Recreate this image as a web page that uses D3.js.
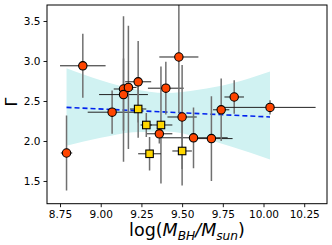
<!DOCTYPE html>
<html>
<head>
<meta charset="utf-8">
<script src="https://cdn.jsdelivr.net/npm/d3@7"></script>
<style>
  body { margin: 0; background: #fff; }
  svg { display: block; font-family: "DejaVu Sans", sans-serif; }
</style>
</head>
<body>
<div id="chart"></div>
<script>
// red circles
var circX    = [8.79, 8.89, 9.07, 9.14, 9.14, 9.17, 9.23, 9.40, 9.48, 9.50, 9.36, 9.57, 9.68, 9.74, 9.82, 10.04];
var circY    = [1.85, 2.94, 2.36, 2.65, 2.58, 2.67, 2.74, 2.66, 3.05, 2.30, 2.09, 2.04, 2.03, 2.39, 2.55, 2.42];
var circXerr = [0.035, 0.14, 0.15, 0.06, 0.15, 0.05, 0.08, 0.11, 0.12, 0.09, 0.08, 0.21, 0.13, 0.05, 0.06, 0.28];
var circYerr = [0.47, 0.40, 0.27, 0.91, 0.45, 0.77, 0.51, 0.33, 0.70, 0.65, 0.12, 0.38, 0.53, 0.39, 0.21, 0.09];

// yellow squares
var sqX    = [9.23, 9.28, 9.37, 9.30, 9.50];
var sqY    = [2.40, 2.20, 2.20, 1.84, 1.875];
var sqXerr = [0.05, 0.035, 0.07, 0.07, 0.06];
var sqYerr = [0.36, 0.15, 0.73, 0.21, 0.43];

// fit and confidence band
var fitX   = [8.79, 10.04];
var fitY   = [2.42, 2.30];
var bandX  = [8.79, 9.00, 9.20, 9.40, 9.60, 9.80, 10.04];
var bandHi = [2.91, 2.76, 2.65, 2.60, 2.64, 2.72, 2.87];
var bandLo = [1.94, 2.04, 2.11, 2.12, 2.05, 1.93, 1.77];

var xTicks = [8.75, 9.00, 9.25, 9.50, 9.75, 10.00, 10.25];
var yTicks = [1.5, 2.0, 2.5, 3.0, 3.5];

function init() {
  var W = 332, H = 245;
  var mLeft = 47, mTop = 5, mRight = 327, mBottom = 203.7;

  var svg = d3.select("#chart").append("svg")
    .attr("width", W).attr("height", H);

  var x = d3.scaleLinear().domain([8.67, 10.39]).range([mLeft, mRight]);
  var y = d3.scaleLinear().domain([1.216, 3.70]).range([mBottom, mTop]);

  svg.append("clipPath").attr("id", "clip")
    .append("rect").attr("x", mLeft).attr("y", mTop)
    .attr("width", mRight - mLeft).attr("height", mBottom - mTop);

  var plot = svg.append("g").attr("clip-path", "url(#clip)");

  // band
  var area = d3.area()
    .x(function(d, i) { return x(bandX[i]); })
    .y0(function(d, i) { return y(bandLo[i]); })
    .y1(function(d, i) { return y(bandHi[i]); })
    .curve(d3.curveMonotoneX);
  plot.append("path").datum(bandX)
    .attr("d", area)
    .attr("fill", "#d0f2f2");

  // fit line
  plot.append("line")
    .attr("x1", x(fitX[0])).attr("y1", y(fitY[0]))
    .attr("x2", x(fitX[1])).attr("y2", y(fitY[1]))
    .attr("stroke", "#0022ee").attr("stroke-width", 1.6)
    .attr("stroke-dasharray", "5,3");

  function errorBars(xs, ys, xe, ye) {
    var g = plot.append("g");
    xs.forEach(function(d, i) {
      g.append("line")
        .attr("x1", x(d)).attr("x2", x(d))
        .attr("y1", y(ys[i] - ye[i])).attr("y2", y(ys[i] + ye[i]))
        .attr("stroke", "#707070").attr("stroke-width", 1.5);
      g.append("line")
        .attr("x1", x(d - xe[i])).attr("x2", x(d + xe[i]))
        .attr("y1", y(ys[i])).attr("y2", y(ys[i]))
        .attr("stroke", "#222").attr("stroke-width", 1);
    });
  }
  errorBars(circX, circY, circXerr, circYerr);
  errorBars(sqX, sqY, sqXerr, sqYerr);

  plot.append("g").selectAll("circle")
    .data(circX)
    .enter()
    .append("circle")
    .attr("cx", function(d) { return x(d); })
    .attr("cy", function(d, i) { return y(circY[i]); })
    .attr("r", 4.2)
    .attr("fill", "#ff4500")
    .attr("stroke", "#000").attr("stroke-width", 1.1);

  var s = 7.5;
  plot.append("g").selectAll("rect")
    .data(sqX)
    .enter()
    .append("rect")
    .attr("x", function(d) { return x(d) - s / 2; })
    .attr("y", function(d, i) { return y(sqY[i]) - s / 2; })
    .attr("width", s).attr("height", s)
    .attr("fill", "#ffd700")
    .attr("stroke", "#000").attr("stroke-width", 1.1);

  // axes
  var xAxis = svg.append("g")
    .attr("transform", "translate(0," + mBottom + ")")
    .call(d3.axisBottom(x).tickValues(xTicks).tickFormat(d3.format(".2f"))
      .tickSize(3.5).tickPadding(3));
  var yAxis = svg.append("g")
    .attr("transform", "translate(" + mLeft + ",0)")
    .call(d3.axisLeft(y).tickValues(yTicks).tickFormat(d3.format(".1f"))
      .tickSize(3.5).tickPadding(3));
  [xAxis, yAxis].forEach(function(a) {
    a.select(".domain").remove();
    a.selectAll("text").attr("font-size", 10.5)
      .attr("font-family", "DejaVu Sans").attr("fill", "#000");
    a.selectAll("line").attr("stroke", "#000").attr("stroke-width", 0.9);
  });

  svg.append("rect")
    .attr("x", mLeft).attr("y", mTop)
    .attr("width", mRight - mLeft).attr("height", mBottom - mTop)
    .attr("fill", "none").attr("stroke", "#000").attr("stroke-width", 1);

  // labels
  var xl = svg.append("text")
    .attr("x", (mLeft + mRight) / 2).attr("y", 236)
    .attr("text-anchor", "middle")
    .attr("font-size", 17.5);
  xl.append("tspan").text("log(");
  xl.append("tspan").attr("font-style", "italic").text("M");
  xl.append("tspan").attr("font-style", "italic").attr("font-size", 12.2).attr("dy", 3.5).text("BH");
  xl.append("tspan").attr("font-style", "italic").attr("dy", -3.5).text("/M");
  xl.append("tspan").attr("font-style", "italic").attr("font-size", 12.2).attr("dy", 3.5).text("sun");
  xl.append("tspan").attr("dy", -3.5).text(")");

  svg.append("text")
    .attr("transform", "translate(17,102) rotate(-90)")
    .attr("text-anchor", "middle")
    .attr("font-size", 16)
    .text("Γ");
}

init();
</script>
</body>
</html>
